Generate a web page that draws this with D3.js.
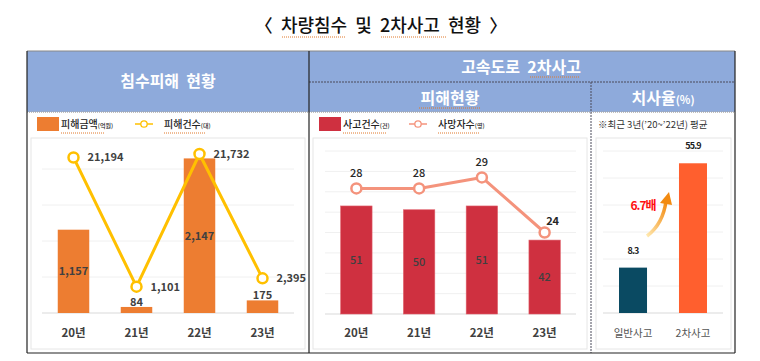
<!DOCTYPE html>
<html>
<head>
<meta charset="utf-8">
<script src="https://cdn.jsdelivr.net/npm/d3@7"></script>
<style>
  body { margin: 0; background: #fff; }
  svg { display: block; font-family: "Noto Sans CJK KR", "Noto Sans", sans-serif; }
  text { white-space: pre; }
</style>
</head>
<body>
<svg id="chart" width="760" height="361"></svg>
<script>
// 침수피해 현황
const floodYears = ['20년', '21년', '22년', '23년'];
const floodAmount = [1157, 84, 2147, 175];        // 피해금액(억원)
const floodCount = [21194, 1101, 21732, 2395];    // 피해건수(대)

// 고속도로 2차사고 피해현황
const accYears = ['20년', '21년', '22년', '23년'];
const accCount = [51, 50, 51, 42];                // 사고건수(건)
const accDeaths = [28, 28, 29, 24];               // 사망자수(명)

// 치사율(%)
const rateCats = ['일반사고', '2차사고'];
const rateValues = [8.3, 55.9];
const rateColors = ['#0A4A62', '#FF5F2E'];

const svg = d3.select('#chart');
const fmt = d3.format(',');

// ---- title
svg.append('text')
    .attr('x', 381).attr('y', 32)
    .attr('text-anchor', 'middle')
    .attr('font-size', 18).attr('font-weight', 500).attr('fill', '#111')
    .text('〈  차량침수  및  2차사고  현황  〉');

// squiggle underline (spell check marks)
function squiggle(x1, x2, y) {
    svg.append('line')
        .attr('x1', x1).attr('x2', x2).attr('y1', y).attr('y2', y)
        .attr('stroke', '#E0782A').attr('stroke-width', 1)
        .attr('stroke-dasharray', '1,1');
}
squiggle(282, 346, 37);
squiggle(381, 446, 37);

// ---- table frame
const T = {left: 27, right: 735, top: 51, head: 112, bottom: 353, mid: 309, sub: 591, subY: 82};

svg.append('rect')
    .attr('x', T.left).attr('y', T.top)
    .attr('width', T.right - T.left).attr('height', T.head - T.top)
    .attr('fill', '#8EAADB');

svg.append('line')
    .attr('x1', T.left).attr('x2', T.right).attr('y1', T.top).attr('y2', T.top)
    .attr('stroke', '#888').attr('stroke-width', 1);
svg.append('line')
    .attr('x1', T.left).attr('x2', T.right).attr('y1', T.head).attr('y2', T.head)
    .attr('stroke', '#aaa').attr('stroke-width', 1.5).attr('stroke-dasharray', '1,1');
svg.append('line')
    .attr('x1', T.mid).attr('x2', T.right).attr('y1', T.subY).attr('y2', T.subY)
    .attr('stroke', '#4a4a5a').attr('stroke-width', 1).attr('stroke-dasharray', '2,1');
svg.append('line')
    .attr('x1', T.sub).attr('x2', T.sub).attr('y1', T.subY).attr('y2', T.bottom)
    .attr('stroke', '#4a4a5a').attr('stroke-width', 1).attr('stroke-dasharray', '2,1');
[T.left, T.mid, T.right].forEach(x => {
    svg.append('line')
        .attr('x1', x).attr('x2', x).attr('y1', T.top).attr('y2', T.bottom)
        .attr('stroke', '#222').attr('stroke-width', 1.2);
});
svg.append('line')
    .attr('x1', T.left).attr('x2', T.right).attr('y1', T.bottom).attr('y2', T.bottom)
    .attr('stroke', '#222').attr('stroke-width', 1.2);

function headText(x, y, txt, small) {
    let t = svg.append('text')
        .attr('x', x).attr('y', y)
        .attr('text-anchor', 'middle')
        .attr('font-size', 16).attr('font-weight', 700).attr('fill', '#fff')
        .text(txt);
    if (small) t.append('tspan').attr('font-size', 11).text(small);
}
headText(168, 87, '침수피해  현황');
headText(521, 73, '고속도로  2차사고');
headText(450, 104, '피해현황');
headText(663, 104, '치사율', '(%)');
squiggle(530, 580, 77);
squiggle(419, 481, 108);

// ---- inner plot boxes
function panelBox(x1, x2) {
    svg.append('rect')
        .attr('x', x1).attr('y', 138)
        .attr('width', x2 - x1).attr('height', 211)
        .attr('fill', 'none').attr('stroke', '#e6e6e6').attr('stroke-width', 1);
}
panelBox(31, 305);
panelBox(313, 587);
panelBox(596, 731);

// legend helpers
function legendRect(x, y, color, label, unit) {
    svg.append('rect').attr('x', x).attr('y', y).attr('width', 22).attr('height', 14).attr('fill', color);
    let t = svg.append('text').attr('x', x + 24).attr('y', y + 11)
        .attr('font-size', 10).attr('font-weight', 500).attr('fill', '#222').text(label);
    t.append('tspan').attr('font-size', 6).text(unit);
}
function legendLine(x, y, color, label, unit) {
    svg.append('line').attr('x1', x).attr('x2', x + 18).attr('y1', y).attr('y2', y)
        .attr('stroke', color).attr('stroke-width', 1.5);
    svg.append('circle').attr('cx', x + 9).attr('cy', y).attr('r', 3.2)
        .attr('fill', '#fff').attr('stroke', color).attr('stroke-width', 1.3);
    let t = svg.append('text').attr('x', x + 29).attr('y', y + 4)
        .attr('font-size', 10).attr('font-weight', 500).attr('fill', '#222').text(label);
    t.append('tspan').attr('font-size', 6).text(unit);
}

function grid(x1, x2, yScale, ticks) {
    svg.append('g').selectAll('line').data(ticks).join('line')
        .attr('x1', x1).attr('x2', x2)
        .attr('y1', d => yScale(d)).attr('y2', d => yScale(d))
        .attr('stroke', d => d === ticks[0] ? '#d9d9d9' : '#f0f0f0')
        .attr('stroke-width', 1);
}

function xAxisLabels(x, cats, y, opts) {
    svg.append('g').selectAll('text').data(cats).join('text')
        .attr('x', d => x(d) + x.bandwidth() / 2)
        .attr('y', y)
        .attr('text-anchor', 'middle')
        .attr('font-size', opts.size).attr('font-weight', opts.weight).attr('fill', opts.color)
        .text(d => d);
}

// ================= 침수피해 현황 =================
{
    const x = d3.scaleBand().domain(floodYears).range([42, 294]).paddingInner(0.5).paddingOuter(0.25);
    const yBar = d3.scaleLinear().domain([0, 2500]).range([313, 133]);
    const yLine = d3.scaleLinear().domain([-3000, 25000]).range([313, 133]);
    const barColor = '#ED7D31', lineColor = '#FFC000';

    legendRect(37, 117, barColor, '피해금액', '(억원)');
    legendLine(135, 124, lineColor, '피해건수', '(대)');
    squiggle(61, 104, 133);
    squiggle(164, 206, 133);

    grid(42, 294, yBar, [0, 500, 1000, 1500, 2000]);

    svg.append('g').selectAll('rect').data(floodAmount).join('rect')
        .attr('x', (d, i) => x(floodYears[i]))
        .attr('y', d => yBar(d))
        .attr('width', x.bandwidth())
        .attr('height', d => yBar(0) - yBar(d))
        .attr('fill', barColor);

    svg.append('g').selectAll('text').data(floodAmount).join('text')
        .attr('x', (d, i) => x(floodYears[i]) + x.bandwidth() / 2)
        .attr('y', d => {
            let mid = (yBar(d) + yBar(0)) / 2;
            return (yBar(0) - yBar(d) < 20 ? yBar(d) - 5 : mid) + 4;
        })
        .attr('text-anchor', 'middle')
        .attr('font-size', 11).attr('font-weight', 700).attr('fill', '#404040')
        .text(d => fmt(d));

    const line = d3.line()
        .x((d, i) => x(floodYears[i]) + x.bandwidth() / 2)
        .y(d => yLine(d));
    svg.append('path').datum(floodCount)
        .attr('d', line).attr('fill', 'none')
        .attr('stroke', lineColor).attr('stroke-width', 3).attr('stroke-linejoin', 'round');
    svg.append('g').selectAll('circle').data(floodCount).join('circle')
        .attr('cx', (d, i) => x(floodYears[i]) + x.bandwidth() / 2)
        .attr('cy', d => yLine(d))
        .attr('r', 5).attr('fill', '#fff')
        .attr('stroke', lineColor).attr('stroke-width', 2.5);
    svg.append('g').selectAll('text').data(floodCount).join('text')
        .attr('x', (d, i) => x(floodYears[i]) + x.bandwidth() / 2 + 14)
        .attr('y', d => yLine(d) + 4)
        .attr('font-size', 11).attr('font-weight', 700).attr('fill', '#404040')
        .text(d => fmt(d));

    xAxisLabels(x, floodYears, 337, {size: 11.5, weight: 700, color: '#404040'});
}

// ================= 2차사고 피해현황 =================
{
    const x = d3.scaleBand().domain(accYears).range([325, 576]).paddingInner(0.5).paddingOuter(0.25);
    const yBar = d3.scaleLinear().domain([22.5, 65.5]).range([314, 151]);
    const yLine = d3.scaleLinear().domain([16.6, 31.4]).range([314, 151]);
    const yGrid = d3.scaleLinear().domain([0, 8]).range([314, 151]);
    const barColor = '#CF3040', lineColor = '#F4937C';

    legendRect(319, 117, barColor, '사고건수', '(건)');
    legendLine(409, 124, lineColor, '사망자수', '(명)');
    squiggle(343, 386, 133);
    squiggle(438, 480, 133);

    grid(325, 576, yGrid, d3.range(0, 9));

    svg.append('g').selectAll('rect').data(accCount).join('rect')
        .attr('x', (d, i) => x(accYears[i]))
        .attr('y', d => yBar(d))
        .attr('width', x.bandwidth())
        .attr('height', d => yBar.range()[0] - yBar(d))
        .attr('fill', barColor)
        .attr('stroke', '#E0606A').attr('stroke-width', 0.6);

    svg.append('g').selectAll('text').data(accCount).join('text')
        .attr('x', (d, i) => x(accYears[i]) + x.bandwidth() / 2)
        .attr('y', d => (yBar(d) + yBar.range()[0]) / 2 + 4)
        .attr('text-anchor', 'middle')
        .attr('font-size', 11).attr('font-weight', 500).attr('fill', '#404040')
        .text(d => d);

    const line = d3.line()
        .x((d, i) => x(accYears[i]) + x.bandwidth() / 2)
        .y(d => yLine(d));
    svg.append('path').datum(accDeaths)
        .attr('d', line).attr('fill', 'none')
        .attr('stroke', lineColor).attr('stroke-width', 3).attr('stroke-linejoin', 'round');
    svg.append('g').selectAll('circle').data(accDeaths).join('circle')
        .attr('cx', (d, i) => x(accYears[i]) + x.bandwidth() / 2)
        .attr('cy', d => yLine(d))
        .attr('r', 5).attr('fill', '#fff')
        .attr('stroke', lineColor).attr('stroke-width', 2.5);
    svg.append('g').selectAll('text').data(accDeaths).join('text')
        .attr('x', (d, i) => x(accYears[i]) + x.bandwidth() / 2 + (i === accDeaths.length - 1 ? 8 : 0))
        .attr('y', (d, i) => yLine(d) - (i === accDeaths.length - 1 ? 8 : 11))
        .attr('text-anchor', 'middle')
        .attr('font-size', 11).attr('font-weight', (d, i) => i === accDeaths.length - 1 ? 700 : 500)
        .attr('fill', '#262626')
        .text(d => d);

    xAxisLabels(x, accYears, 337, {size: 11.5, weight: 700, color: '#404040'});
}

// ================= 치사율 =================
{
    const x = d3.scaleBand().domain(rateCats).range([603, 723]).paddingInner(0.533).paddingOuter(0.267);
    const y = d3.scaleLinear().domain([-12.4, 61.5]).range([313, 151]);
    const yGrid = d3.scaleLinear().domain([0, 6]).range([313, 151]);

    svg.append('text').attr('x', 598).attr('y', 128)
        .attr('font-size', 9.5).attr('fill', '#333')
        .text('※최근 3년(\u201920~\u201922년) 평균');

    grid(603, 723, yGrid, d3.range(0, 7));

    svg.append('g').selectAll('rect').data(rateValues).join('rect')
        .attr('x', (d, i) => x(rateCats[i]))
        .attr('y', d => y(d))
        .attr('width', x.bandwidth())
        .attr('height', d => y.range()[0] - y(d))
        .attr('fill', (d, i) => rateColors[i]);

    svg.append('g').selectAll('text').data(rateValues).join('text')
        .attr('x', (d, i) => x(rateCats[i]) + x.bandwidth() / 2)
        .attr('y', d => y(d) - 14)
        .attr('text-anchor', 'middle')
        .attr('font-size', 9).attr('font-weight', 700).attr('fill', '#222')
        .attr('letter-spacing', -0.8)
        .text(d => d.toFixed(1));

    xAxisLabels(x, rateCats, 337, {size: 10.5, weight: 400, color: '#555'});

    // 6.7배 arrow
    const defs = svg.append('defs');
    const grad = defs.append('linearGradient').attr('id', 'arrowGrad')
        .attr('x1', '0%').attr('y1', '100%').attr('x2', '100%').attr('y2', '0%');
    grad.append('stop').attr('offset', '0%').attr('stop-color', '#FFE9B0');
    grad.append('stop').attr('offset', '100%').attr('stop-color', '#F28A10');

    svg.append('path')
        .attr('d', 'M647,236 Q663,224 666,201')
        .attr('fill', 'none').attr('stroke', 'url(#arrowGrad)').attr('stroke-width', 3.5);
    svg.append('path')
        .attr('d', 'M660,203 L669,192 L672,205 Z')
        .attr('fill', '#F28A10');

    svg.append('text').attr('x', 643).attr('y', 210)
        .attr('text-anchor', 'middle')
        .attr('font-size', 12).attr('font-weight', 700).attr('fill', '#FF1010')
        .attr('letter-spacing', -1)
        .text('6.7배');
}
</script>
</body>
</html>
